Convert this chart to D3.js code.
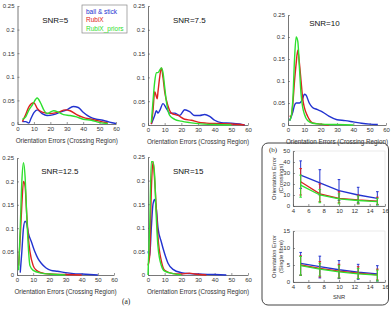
<!DOCTYPE html>
<html><head><meta charset="utf-8">
<script src="https://cdn.jsdelivr.net/npm/d3@7"></script>
<style>body{margin:0;background:#fff}svg{display:block}text{font-family:"Liberation Sans",Arial,sans-serif}</style>
</head><body><svg id="c" width="391" height="310"></svg>
<script>
// ---------- DATA ----------
const seriesNames = ["ball & stick", "RubiX", "RubiX_priors"];
const seriesColors = ["#2233d0", "#dd2020", "#2fe02f"];
const snrLabels = ["SNR=5", "SNR=7.5", "SNR=10", "SNR=12.5", "SNR=15"];
const errTicks = [0, 10, 20, 30, 40, 50, 60];
const densTicks = [0, 0.05, 0.1, 0.15, 0.2, 0.25];
const densTickLabels = ["0", "0.05", "0.1", "0.15", "0.2", "0.25"];

// density curves: [error, density]
const snr5Blue = [[3,0.005],[5,0.005],[7,0.002],[8,0.01],[10,0.024],[12,0.03],[15,0.022],[18,0.018],[22,0.02],[26,0.025],[30,0.03],[34,0.037],[37,0.035],[40,0.025],[44,0.015],[48,0.01],[52,0.008],[56,0.004],[60,0.001]];
const snr5Red = [[3,0.005],[5,0.02],[7,0.037],[10,0.045],[12,0.033],[15,0.025],[20,0.022],[25,0.025],[29,0.03],[32,0.028],[36,0.02],[40,0.014],[45,0.01],[50,0.006],[55,0.002]];
const snr5Green = [[3,0.01],[5,0.015],[7,0.03],[9,0.04],[12,0.055],[14,0.045],[16,0.03],[18,0.022],[22,0.028],[25,0.025],[28,0.02],[32,0.018],[36,0.015],[40,0.01],[45,0.008],[50,0.003],[55,0.001]];

const snr75Blue = [[2,0.002],[4,0.02],[5,0.03],[6,0.025],[7,0.03],[9,0.045],[11,0.035],[13,0.025],[16,0.025],[19,0.02],[22,0.032],[25,0.028],[28,0.02],[31,0.02],[34,0.022],[37,0.018],[40,0.01],[44,0.005],[50,0.004],[55,0.002],[58,0]];
const snr75Red = [[2,0.002],[3,0.03],[4,0.07],[5,0.06],[5.5,0.055],[6,0.07],[7,0.1],[8,0.12],[9,0.1],[10,0.07],[12,0.04],[14,0.025],[18,0.02],[22,0.012],[26,0.01],[30,0.006],[35,0.004],[40,0.003],[50,0.002],[58,0]];
const snr75Green = [[2,0.005],[3,0.05],[4,0.09],[5,0.11],[6,0.11],[7,0.115],[8,0.12],[9,0.11],[10,0.08],[11,0.05],[13,0.02],[16,0.012],[20,0.008],[25,0.005],[30,0.003],[40,0.001],[50,0]];

const snr10Blue = [[1,0.01],[3,0.03],[4,0.045],[5,0.05],[7,0.05],[9,0.06],[10,0.07],[11,0.068],[13,0.05],[15,0.04],[18,0.035],[21,0.03],[25,0.02],[30,0.012],[35,0.01],[40,0.007],[45,0.004],[50,0.002],[55,0.001]];
const snr10Red = [[1,0.02],[2,0.02],[3,0.05],[4,0.1],[5,0.14],[6,0.17],[7,0.14],[8,0.1],[9,0.06],[10,0.04],[12,0.02],[15,0.005],[20,0.002],[25,0]];
const snr10Green = [[1,0.01],[2,0.02],[3,0.06],[4,0.15],[5,0.2],[6,0.19],[7,0.13],[8,0.07],[9,0.04],[10,0.025],[12,0.01],[15,0.004],[20,0.002],[30,0.001],[40,0]];

const snr125Blue = [[2,0.005],[3,0.05],[4,0.1],[5,0.115],[6,0.11],[7,0.09],[9,0.07],[11,0.05],[13,0.035],[15,0.025],[18,0.015],[21,0.01],[25,0.008],[30,0.005],[35,0.003],[40,0.002],[45,0.001],[50,0]];
const snr125Red = [[1,0.02],[2,0.08],[3,0.15],[4,0.2],[5,0.19],[6,0.13],[7,0.08],[8,0.05],[10,0.02],[12,0.01],[15,0.005],[20,0.002],[30,0.001],[40,0]];
const snr125Green = [[1,0.01],[2,0.1],[3,0.2],[4,0.24],[5,0.21],[6,0.13],[7,0.06],[8,0.02],[10,0.01],[15,0.004],[20,0.002],[30,0]];

const snr15Blue = [[0,0.05],[1,0.04],[2,0.1],[3,0.15],[4,0.16],[5,0.14],[6,0.1],[8,0.07],[10,0.045],[12,0.025],[15,0.012],[20,0.005],[25,0.003],[30,0.002],[40,0.001],[47,0]];
const snr15Red = [[0,0.02],[1,0.04],[2,0.18],[3,0.24],[4,0.2],[5,0.14],[6,0.08],[8,0.03],[10,0.01],[15,0.003],[20,0.002],[25,0.004],[28,0.002],[35,0]];
const snr15Green = [[0,0],[1,0.1],[2,0.24],[3,0.24],[4,0.21],[5,0.12],[6,0.06],[8,0.02],[10,0.008],[15,0.003],[20,0]];

const densitySets = [
  [snr5Blue, snr5Red, snr5Green],
  [snr75Blue, snr75Red, snr75Green],
  [snr10Blue, snr10Red, snr10Green],
  [snr125Blue, snr125Red, snr125Green],
  [snr15Blue, snr15Red, snr15Green]
];

// panel (b)
const snrValues = [5, 7.5, 10, 12.5, 15];
const snrTicks = [4, 6, 8, 10, 12, 14, 16];
const crossMean = [[28,21,14,10,7],[22,11,7,5.5,4.5],[19,10,6.5,5,4]];
const crossLow  = [[16,10,5,3,1],[10,4,3,2,1.5],[8,3,2,2,1]];
const crossHigh = [[41,33,24,17,13],[34,20,13,10,8],[28,15,11,9,7]];
const singleMean = [[5.5,4.5,3.6,2.9,2.4],[5,4,3.2,2.6,2.1],[4.8,3.8,3,2.4,2]];
const singleLow  = [[2,1.2,1,0.8,0.3],[2,1.5,1.2,1,0.6],[2,1.8,1.2,1,0.3]];
const singleHigh = [[8.7,7.6,6.3,5.2,4.8],[7.7,6,5.2,4.5,3.8],[7.5,5.5,4.8,4,3.5]];
const crossTicks = [0, 10, 20, 30, 40, 50];
const singleTicks = [0, 5, 10, 15];

// ---------- DRAW ----------
const svg = d3.select("#c");
const axisCol = "#555", txtCol = "#333";

const panels = [
  {l:17.5, r:116, t:6, b:124},
  {l:148, r:248, t:6, b:125},
  {l:288, r:386, t:15, b:125},
  {l:17, r:114, t:158, b:275},
  {l:148, r:248, t:157, b:275}
];

function styleAxis(g){
  g.select(".domain").attr("stroke", axisCol).attr("stroke-width", 0.8);
  g.selectAll(".tick line").attr("stroke", axisCol).attr("stroke-width", 0.6);
  g.selectAll(".tick text").attr("fill", txtCol).style("font-size", "6px").style("font-family", '"Liberation Sans",Arial,sans-serif');
}

panels.forEach((p, i) => {
  const x = d3.scaleLinear().domain([0, 60]).range([p.l, p.r]);
  const y = d3.scaleLinear().domain([0, 0.25]).range([p.b, p.t]);
  const gx = svg.append("g").attr("transform", `translate(0,${p.b})`)
    .call(d3.axisBottom(x).tickValues(errTicks).tickFormat(d3.format("d")).tickSize(-2).tickPadding(3).tickSizeOuter(0));
  styleAxis(gx);
  const gy = svg.append("g").attr("transform", `translate(${p.l},0)`)
    .call(d3.axisLeft(y).tickValues(densTicks).tickFormat((d, k) => densTickLabels[k]).tickSize(-2).tickPadding(3).tickSizeOuter(0));
  styleAxis(gy);
  svg.append("text").attr("x", (p.l + p.r) / 2).attr("y", p.b + 19)
    .attr("text-anchor", "middle").attr("fill", txtCol).style("font-size", "6.3px")
    .text("Orientation Errors (Crossing Region)");
  svg.append("text").attr("x", x(i === 2 ? 13 : 15)).attr("y", y(i === 2 ? 0.225 : 0.215))
    .attr("fill", "#111").style("font-size", "8px").text(snrLabels[i]);
  const line = d3.line().x(d => x(d[0])).y(d => y(d[1])).curve(d3.curveMonotoneX);
  densitySets[i].forEach((s, k) => {
    svg.append("path").datum(s).attr("d", line).attr("fill", "none")
      .attr("stroke", seriesColors[k]).attr("stroke-width", 1.4).attr("stroke-linejoin", "round");
  });
});

// legend
const lg = svg.append("g");
lg.append("rect").attr("x", 82).attr("y", 5).attr("width", 45).attr("height", 28)
  .attr("fill", "#fff").attr("stroke", "#888").attr("stroke-width", 0.7);
seriesNames.forEach((n, k) => {
  lg.append("text").attr("x", 86).attr("y", 14 + k * 8.3).attr("fill", seriesColors[k])
    .style("font-size", "6.5px").text(n);
});

// (a)
svg.append("text").attr("x", 122).attr("y", 304).attr("fill", "#222")
  .style("font-family", '"Liberation Serif","Times New Roman",serif').style("font-size", "7.5px").text("(a)");

// panel (b) box
svg.append("rect").attr("x", 262).attr("y", 143).attr("width", 126.5).attr("height", 162)
  .attr("rx", 6).attr("fill", "none").attr("stroke", "#444").attr("stroke-width", 1);
svg.append("text").attr("x", 269).attr("y", 152).attr("fill", "#222")
  .style("font-family", '"Liberation Serif","Times New Roman",serif').style("font-size", "7px").text("(b)");

const subs = [
  {t:151, b:206, dom:[0,50], ticks:crossTicks, mean:crossMean, lo:crossLow, hi:crossHigh, lab:["Orientation Error","(Crossings)"], xlab:false},
  {t:231, b:282, dom:[0,15], ticks:singleTicks, mean:singleMean, lo:singleLow, hi:singleHigh, lab:["Orientation Error","(Single fibre)"], xlab:true}
];
subs.forEach(s => {
  const x = d3.scaleLinear().domain([4, 16]).range([293, 385]);
  const y = d3.scaleLinear().domain(s.dom).range([s.b, s.t]);
  svg.append("rect").attr("x", 293).attr("y", s.t).attr("width", 92).attr("height", s.b - s.t)
    .attr("fill", "none").attr("stroke", "#ddd").attr("stroke-width", 0.6);
  const gx = svg.append("g").attr("transform", `translate(0,${s.b})`)
    .call(d3.axisBottom(x).tickValues(snrTicks).tickFormat(d3.format("d")).tickSize(-2).tickPadding(3).tickSizeOuter(0));
  styleAxis(gx);
  const gy = svg.append("g").attr("transform", `translate(293,0)`)
    .call(d3.axisLeft(y).tickValues(s.ticks).tickFormat(d3.format("d")).tickSize(-2).tickPadding(3).tickSizeOuter(0));
  styleAxis(gy);
  const cy = (s.t + s.b) / 2;
  s.lab.forEach((l, k) => {
    svg.append("text").attr("transform", `translate(${276 + k * 6.5},${cy}) rotate(-90)`)
      .attr("text-anchor", "middle").attr("fill", txtCol).style("font-size", "5.8px").text(l);
  });
  if (s.xlab) {
    svg.append("text").attr("x", 339).attr("y", s.b + 16.5).attr("text-anchor", "middle")
      .attr("fill", txtCol).style("font-size", "5.8px").text("SNR");
  }
  const line = d3.line().x((d, k) => x(snrValues[k])).y(d => y(d));
  s.mean.forEach((m, k) => {
    svg.append("path").datum(m).attr("d", line).attr("fill", "none")
      .attr("stroke", seriesColors[k]).attr("stroke-width", 1.3);
    snrValues.forEach((v, j) => {
      const xx = x(v);
      const g = svg.append("g").attr("stroke", seriesColors[k]).attr("stroke-width", 1);
      g.append("line").attr("x1", xx).attr("x2", xx).attr("y1", y(s.lo[k][j])).attr("y2", y(s.hi[k][j]));
      g.append("line").attr("x1", xx - 1.3).attr("x2", xx + 1.3).attr("y1", y(s.lo[k][j])).attr("y2", y(s.lo[k][j]));
      g.append("line").attr("x1", xx - 1.3).attr("x2", xx + 1.3).attr("y1", y(s.hi[k][j])).attr("y2", y(s.hi[k][j]));
    });
  });
});
</script></body></html>
